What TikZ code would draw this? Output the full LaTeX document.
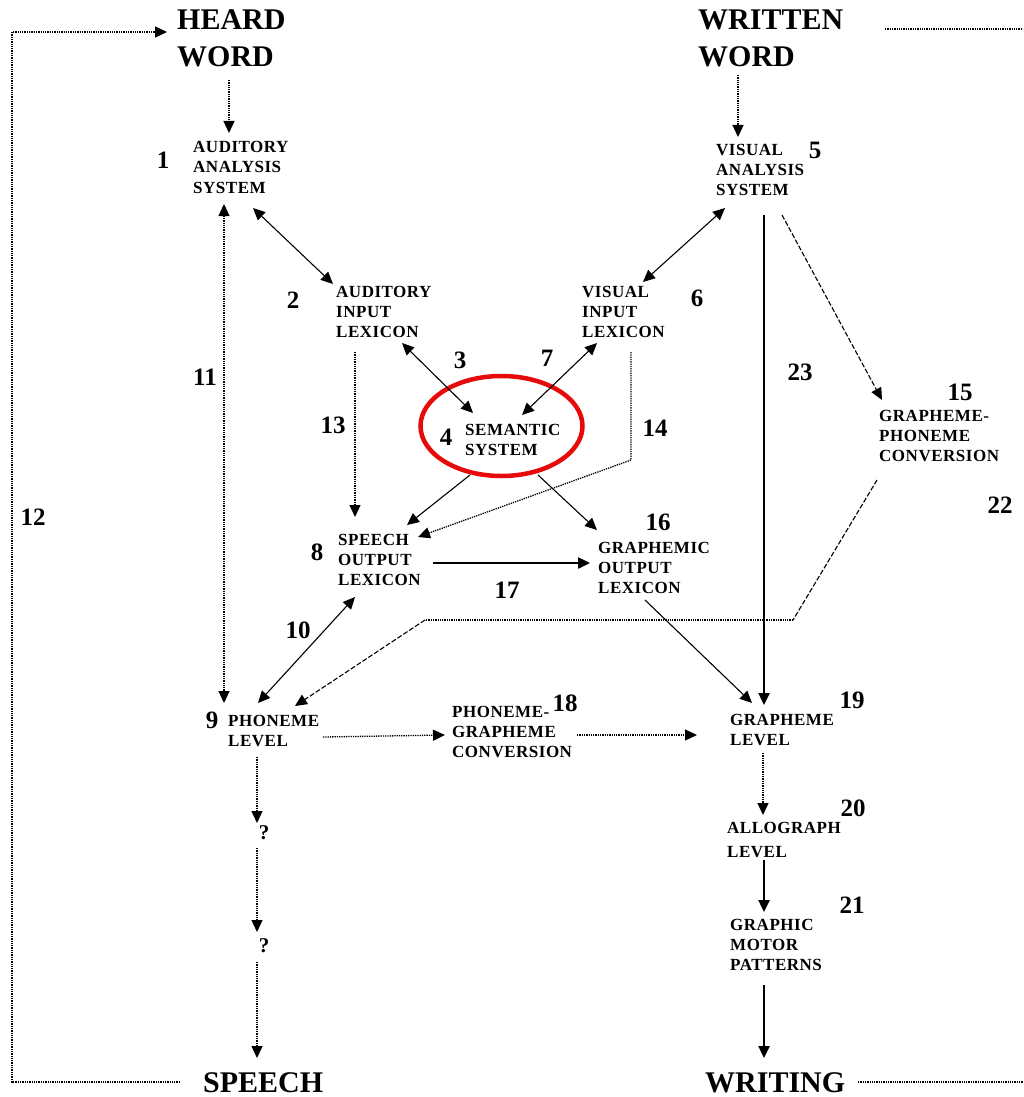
\documentclass[tikz,border=0pt]{standalone}
\usepackage{fontspec}
\setmainfont{Liberation Serif}
\newfontfamily\lblfont[LetterSpace=3]{Liberation Serif}
\usetikzlibrary{arrows.meta,calc}
\definecolor{ringred}{RGB}{230,10,10}
\newcommand\mylines[1]{\begin{tabular}[t]{@{}l@{}}#1\end{tabular}}
\begin{document}
\begin{tikzpicture}[x=1pt,y=-1pt,
  lbl/.style={font=\lblfont\bfseries\fontsize{17}{20}\selectfont, anchor=base west, inner sep=0pt},
  big/.style={font=\bfseries\fontsize{30}{37}\selectfont, anchor=base west, inner sep=0pt},
  num/.style={font=\bfseries\fontsize{25}{25}\selectfont, inner sep=0pt},
  qm/.style={font=\bfseries\fontsize{21}{21}\selectfont, inner sep=0pt},
  tip/.style={-{Triangle[length=12pt,width=11pt]}},
  both/.style={{Triangle[length=12pt,width=11pt]}-{Triangle[length=12pt,width=11pt]}},
  fine/.style={line width=1.1pt},
  heavy/.style={line width=2.4pt},
  dots/.style={densely dotted, line width=1.3pt},
  dsh/.style={dash pattern=on 5pt off 2pt, line width=1.1pt}
]
\useasboundingbox (0,0) rectangle (1023,1097);

% big words
\node[big] (hw) at (177,30) {\mylines{HEARD\\WORD}};
\node[big] (ww) at (698,30) {\mylines{WRITTEN\\WORD}};
\node[big] (sp) at (203,1092) {SPEECH};
\node[big] (wr) at (705,1092) {WRITING};

% modules
\node[lbl] (aas) at (193,153) {\mylines{AUDITORY\\ANALYSIS\\SYSTEM}};
\node[lbl] (vas) at (716,155) {\mylines{VISUAL\\ANALYSIS\\SYSTEM}};
\node[lbl] (ail) at (336,297) {\mylines{AUDITORY\\INPUT\\LEXICON}};
\node[lbl] (vil) at (582,297) {\mylines{VISUAL\\INPUT\\LEXICON}};
\node[lbl] (sem) at (465,435) {\mylines{SEMANTIC\\SYSTEM}};
\node[lbl] (sol) at (338,545) {\mylines{SPEECH\\OUTPUT\\LEXICON}};
\node[lbl] (gol) at (598,553) {\mylines{GRAPHEMIC\\OUTPUT\\LEXICON}};
\node[lbl] (gpc) at (879,421) {\mylines{GRAPHEME-\\PHONEME\\CONVERSION}};
\node[lbl] (phl) at (228,726) {\mylines{PHONEME\\LEVEL}};
\node[lbl] (pgc) at (452,717) {\mylines{PHONEME-\\GRAPHEME\\CONVERSION}};
\node[lbl] (grl) at (730,725) {\mylines{GRAPHEME\\LEVEL}};
\node[lbl] (all) at (727,833) {\mylines{ALLOGRAPH\\[4pt]LEVEL}};
\node[lbl] (gmp) at (730,930) {\mylines{GRAPHIC\\MOTOR\\PATTERNS}};
\node[qm] (q1) at (264,833) {?};
\node[qm] (q2) at (264,946) {?};

% numbers
\node[num] (n1) at (163,160) {1};
\node[num] (n2) at (293,300) {2};
\node[num] (n3) at (460,360) {3};
\node[num] (n4) at (446,437) {4};
\node[num] (n5) at (815,150) {5};
\node[num] (n6) at (697,298) {6};
\node[num] (n7) at (547,358) {7};
\node[num] (n8) at (317,552) {8};
\node[num] (n9) at (212,720) {9};
\node[num] (n10) at (298,630) {10};
\node[num] (n11) at (205,377) {11};
\node[num] (n12) at (33,517) {12};
\node[num] (n13) at (333,425) {13};
\node[num] (n14) at (655,428) {14};
\node[num] (n15) at (960,392) {15};
\node[num] (n16) at (658,522) {16};
\node[num] (n17) at (507,590) {17};
\node[num] (n18) at (565,703) {18};
\node[num] (n19) at (852,700) {19};
\node[num] (n20) at (853,808) {20};
\node[num] (n21) at (852,905) {21};
\node[num] (n22) at (1000,505) {22};
\node[num] (n23) at (800,372) {23};

% red ring round the semantic system
\draw[ringred, line width=4.5pt] ($(sem.base west)+(36.5,-9)$) ellipse [x radius=81pt, y radius=50pt];

% connectors
\draw[dots,tip] ($(hw.base west)+(52,50)$) -- ($(aas.base west)+(36,-20)$);
\draw[dots,tip] ($(ww.base west)+(40,45)$) -- ($(vas.base west)+(22,-18)$);
\draw[fine,both] ($(aas.base west)+(60,55)$) -- ($(ail.base west)+(-3,-13)$);
\draw[dots,both] ($(aas.base west)+(31,51)$) -- ($(phl.base west)+(-4,-23)$);
\draw[fine,both] ($(vas.base west)+(9,53)$) -- ($(vil.base west)+(61,-15)$);
\draw[fine,both] ($(ail.base west)+(66,46)$) -- ($(sem.base west)+(8,-22)$);
\draw[fine,both] ($(vil.base west)+(15,46)$) -- ($(sem.base west)+(57,-20)$);
\draw[dots,tip] ($(ail.base west)+(19,55)$) -- ($(sol.base west)+(17,-28)$);
\draw[dots,tip] ($(vil.base west)+(49,55)$) -- ($(vil.base west)+(49,163)$) -- ($(sol.base west)+(80,-8)$);
\draw[fine,tip] ($(sem.base west)+(5,40)$) -- ($(sol.base west)+(69,-20)$);
\draw[fine,tip] ($(sem.base west)+(73,40)$) -- ($(gol.base west)+(-1,-23)$);
\draw[heavy,tip] ($(sol.base west)+(95,18)$) -- ($(gol.base west)+(-8,10)$);
\draw[fine,both] ($(sol.base west)+(17,52)$) -- ($(phl.base west)+(30,-23)$);
\draw[dsh,tip] ($(vas.base west)+(66,60)$) -- ($(gpc.base west)+(3,-21)$);
\draw[dsh] ($(gpc.base west)+(-2,59)$) -- ($(gpc.base west)+(-86,199)$);
\draw[dots] ($(gpc.base west)+(-86,199)$) -- ($(gpc.base west)+(-454,199)$);
\draw[dsh,tip] ($(gpc.base west)+(-454,199)$) -- ($(phl.base west)+(67,-20)$);
\draw[heavy,tip] ($(vas.base west)+(48,60)$) -- ($(grl.base west)+(34,-20)$);
\draw[fine,tip] ($(gol.base west)+(47,47)$) -- ($(grl.base west)+(22,-22)$);
\draw[dots,tip] ($(phl.base west)+(95,11)$) -- ($(pgc.base west)+(-7,18)$);
\draw[dots,tip] ($(pgc.base west)+(125,18)$) -- ($(grl.base west)+(-33,10)$);
\draw[dots,tip] ($(grl.base west)+(33,28)$) -- ($(all.base west)+(36,-18)$);
\draw[heavy,tip] ($(all.base west)+(37,27)$) -- ($(gmp.base west)+(34,-18)$);
\draw[heavy,tip] ($(gmp.base west)+(34,55)$) -- ($(wr.base west)+(59,-34)$);
\draw[dots,tip] ($(phl.base west)+(29,31)$) -- ($(q1.center)+(-7,-10)$);
\draw[dots,tip] ($(q1.center)+(-7,15)$) -- ($(q2.center)+(-7,-14)$);
\draw[dots,tip] ($(q2.center)+(-7,16)$) -- ($(sp.base west)+(54,-34)$);
% loop 12
\draw[dots,tip] ($(sp.base west)+(-23,-10)$) -- (12,1082) -- (12,32) -- ($(hw.base west)+(-10,2)$);
% open ends at the right
\coordinate (rtop) at (1023,29);
\coordinate (rbot) at (1023,1082);
\draw[dots] ($(ww.base west)+(187,-1)$) -- (rtop);
\draw[dots] ($(wr.base west)+(153,-10)$) -- (rbot);
\end{tikzpicture}
\end{document}
